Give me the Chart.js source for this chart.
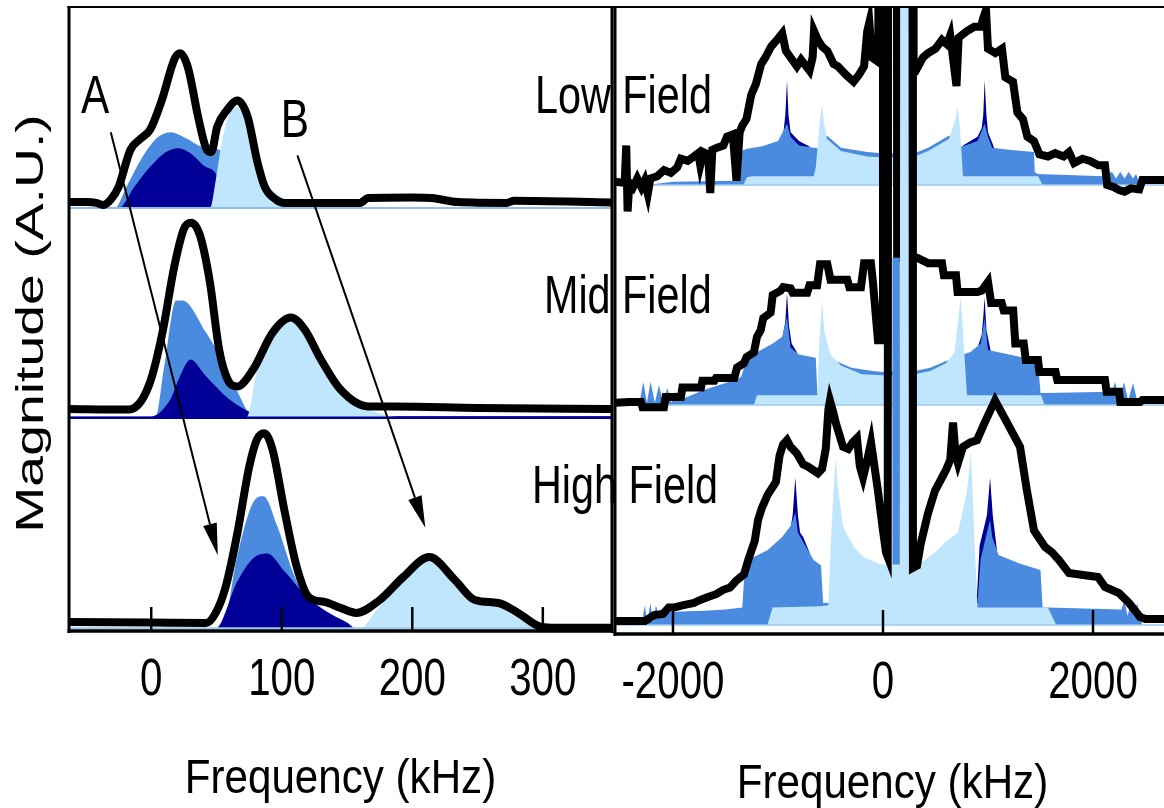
<!DOCTYPE html>
<html><head><meta charset="utf-8">
<script src="https://cdn.jsdelivr.net/npm/chart.js@4.4.1/dist/chart.umd.min.js"></script>
<style>
html,body{margin:0;padding:0;background:#fff;}
body{width:1164px;height:808px;position:relative;overflow:hidden;}
canvas{position:absolute;top:0;}
#cl{left:0;} #cr{left:612px;}
.fl{position:absolute;font-family:'Liberation Sans',Arial,sans-serif;font-size:53px;line-height:53px;color:#000;white-space:pre;transform-origin:0 0;}
</style></head><body>
<canvas id="cl" width="614" height="808"></canvas>
<canvas id="cr" width="552" height="808"></canvas>
<script>
// ---------------- DATA ----------------
const leftTicks = [0, 100, 200, 300];
const rightTicks = [-2000, 0, 2000];
const xTitle = 'Frequency (kHz)';
const yTitle = 'Magnitude (A.U.)';
const fieldNames = ['Low Field', 'Mid Field', 'High Field'];
const traceOffsets = [200, 100, 0];           // Low, Mid, High stacking offset (A.U.)
const arrowA = [[-31, 236], [51, 35]];        // [kHz, A.U.] start -> tip
const arrowB = [[112, 225], [210, 48]];
const arrowLabels = [['A', -43, 245], ['B', 110, 233.8]];

// left panel (kHz, A.U.)
const leftLowBlack = [[-63,2.8],[-50,2.8],[-42,2.4],[-37,1.4],[-31,4],[-25,10],[-16,27.5],[-8,33],[-1,37],[8,51],[18,71],[22,73.5],[28,67],[36,43],[42,28.4],[46,26.5],[50.5,38.5],[58,46.5],[66,51],[74,43],[81,22.7],[87,10],[96,3.8],[102,2.4],[160,2.4],[166,4.7],[200,5],[215,4.7],[235,2.8],[272,2.4],[278,3.4],[353,2.6]];
const leftLowMed = [[-63,0],[-28,0],[-19,10],[-7,24],[5,33.6],[15,36],[27,33],[40,29],[55,26.5],[58,0],[353,0]];
const leftLowDark = [[-63,0],[-25,0],[-13,10],[-1,19.4],[11,26.5],[21,28.4],[30,26],[42,19.4],[51,14.2],[54,0],[353,0]];
const leftLowLight = [[-63,0],[45,0],[49.4,13],[54,31],[60,45],[66,48],[72,41.7],[80,24],[87,11.8],[96,7],[104,2.8],[110,0],[353,0]];

const leftMidBlack = [[-63,4.5],[-20,4.2],[-13,5],[-1,17],[8.6,40.8],[17.6,72],[25,90],[30.6,93],[37.3,87],[45,64.5],[52,32.7],[58.5,18.5],[66,15.2],[78,23.2],[93,40.8],[107,47.9],[117.6,42.2],[130,28],[145,13.7],[166,5.7],[187,5.7],[250,5],[353,4.5]];
const leftMidMed = [[-63,0],[3,0],[10,25],[19,56],[24,56],[42,40.8],[57,24.6],[69,9],[74,3],[78,0],[353,0]];
const leftMidDark = [[-63,0.8],[-1,0.8],[14.6,9],[22,20],[30,28],[42,20],[60,9],[81,2],[100,1],[353,1]];
const leftMidLight = [[-63,0],[72,0],[75,3],[81,23],[96.5,43.6],[107,48.5],[120.5,40.8],[136,20],[151,9],[172,3],[190,0.5],[353,0.5]];

const leftHighBlack = [[-63,3.3],[0,3],[42,2.8],[49.4,7.6],[57,19.9],[66,45.5],[75,76.8],[81,90],[86.6,93],[93,85],[102,56.4],[111.5,29.4],[120.5,15.2],[132.7,12.8],[145,10],[157,7.6],[175,13.7],[193,24.6],[213,34.1],[232.7,23.2],[248,13.7],[266,12.3],[281,7.6],[299,0.9],[310,0.5],[353,0.5]];
const leftHighMed = [[-63,0],[54,0],[66,35],[78,60],[86,63],[96.5,49],[108.5,27],[120.5,11],[132.7,0],[353,0]];
const leftHighDark = [[-63,0],[49,0],[66,22.6],[78,33.5],[89,35.8],[102,27.4],[120.5,14.6],[139,6.6],[150,3],[157,0],[353,0]];
const leftHighLight = [[-63,0],[160,0],[172,8.5],[193,22.6],[213,33.5],[232.7,20.8],[248,13],[266,10.8],[281,5],[296,1.4],[305,0],[353,0]];

// right panel (kHz, A.U.)
const rightLowBlack = [[-2552,1.5],[-2460,1],[-2445,18],[-2432,-12],[-2415,1],[-2380,-1],[-2340,3],[-2300,-1],[-2270,2],[-2240,-4],[-2215,3],[-2150,4],[-2085,6.8],[-2020,5.5],[-1960,8],[-1925,12],[-1860,11],[-1800,13],[-1760,14.5],[-1740,9],[-1710,15],[-1665,14],[-1645,-3.6],[-1625,16],[-1580,17],[-1520,18],[-1485,22],[-1430,23],[-1395,2],[-1365,24],[-1340,27],[-1300,30],[-1255,41],[-1210,46],[-1160,55],[-1120,58],[-1065,63],[-1010,66],[-960,69],[-925,61],[-880,58],[-820,54],[-780,57],[-700,52],[-670,58],[-657,70],[-620,66],[-580,63],[-530,61],[-470,55],[-430,54],[-350,50],[-280,47],[-230,50],[-180,54],[-150,70],[-130,74],[-105,58],[-45,56],[-30,400],[285,400],[292,55],[324,53],[380,58],[430,60],[500,62],[562,66],[610,64],[640,68],[700,45],[720,67],[800,70],[870,72],[933,72],[955,76],[981,79.5],[1000,62],[1070,60],[1133,62],[1165,49],[1238,47],[1280,33],[1333,30],[1375,22],[1438,20],[1490,14],[1571,13],[1640,14.5],[1720,13],[1771,15],[1820,10],[1900,12],[1971,11],[2050,9],[2114,9],[2135,0],[2200,-1],[2248,-2.3],[2300,-3],[2360,-1.5],[2440,-2],[2470,2.3],[2676,2.3]];
const rightLowMed = [[-2552,0],[-2330,0],[-2310,4],[-2295,0],[-2270,3.5],[-2250,0],[-2000,1.5],[-1400,2],[-1371,4],[-1350,15.5],[-1295,16.5],[-1150,17.7],[-1000,20],[-950,24.5],[-914,28],[-880,22],[-800,18],[-660,17],[-640,17],[-600,16],[-535,22.5],[-400,17],[-150,15],[0,14.5],[300,14.5],[430,17],[630,22.5],[700,17.7],[762,17.7],[900,20],[935,24],[968,28],[1000,22],[1040,17],[1200,16],[1438,15],[1445,6],[1470,5],[2110,4],[2180,6],[2220,3],[2260,6],[2300,3],[2340,6],[2380,3],[2410,5],[2450,0],[2676,0]];
const rightLowDark = [[-2552,0],[-1100,0],[-1000,18],[-950,23],[-930,32],[-914,47.7],[-900,32],[-880,24],[-800,20],[-700,17.5],[-640,0],[700,0],[762,18],[900,22],[940,26],[955,32],[968,47.7],[985,32],[1000,24],[1050,18],[1150,0],[2676,0]];
const rightLowLight = [[-2552,0],[-1330,0],[-1295,3.5],[-1250,4],[-660,4],[-640,8],[-600,30],[-580,36],[-560,28],[-535,21],[-400,15.5],[-150,13],[0,12.5],[300,13],[430,15.5],[630,21],[690,30],[709,36],[730,28],[762,4],[1476,4],[1520,0],[2676,0]];

const rightMidBlack = [[-2552,1],[-2420,1.4],[-2305,1.4],[-2290,-1],[-2086,-1],[-2070,3.6],[-1924,3.6],[-1910,8],[-1733,8],[-1720,11],[-1606,11],[-1590,12.3],[-1416,12.3],[-1390,17],[-1324,19],[-1300,21.8],[-1229,24],[-1200,31],[-1165,34],[-1140,39.5],[-1070,42],[-1050,50],[-975,52],[-950,53.6],[-880,53],[-860,51],[-722,51],[-700,54.5],[-627,54.5],[-600,64],[-530,64],[-500,57],[-340,57],[-320,53.6],[-210,53.6],[-180,64.5],[-115,64.5],[-95,55.5],[-48,29.5],[-5,29.5],[0,400],[130,400],[135,66.8],[300,67],[324,67],[430,64.5],[562,64.5],[580,59],[695,59],[710,51.4],[900,51.4],[940,52],[1000,56],[1030,46.4],[1130,46.4],[1150,43],[1240,43],[1260,28],[1340,28],[1360,20.5],[1476,20.5],[1490,15],[1643,15],[1660,11.4],[2114,11.4],[2130,6],[2248,6],[2260,1.4],[2448,1.4],[2470,2.3],[2676,2.3]];
const rightMidMed = [[-2552,0],[-2320,0.5],[-2283,10.6],[-2248,1],[-2213,10.6],[-2173,1],[-2133,9],[-2094,1],[-2054,7.7],[-2014,1],[-1974,6],[-1940,2.5],[-1900,3],[-1700,7],[-1500,10],[-1380,12],[-1350,13],[-1290,22],[-1200,24],[-1050,28],[-960,31],[-914,40],[-880,26],[-800,23],[-640,21.5],[-625,5],[-610,5],[-535,21],[-450,20],[-300,17],[-100,15.5],[0,15],[300,15.5],[450,17],[600,20],[680,21],[762,23],[830,24],[930,28],[968,39.5],[1000,25],[1100,24],[1300,22],[1476,20],[1500,5.5],[1540,5.5],[2180,6],[2210,10.5],[2250,2],[2295,10.5],[2335,2],[2381,10],[2420,2],[2450,0],[2676,0]];
const rightMidDark = [[-2552,0],[-1100,0],[-960,30],[-930,38],[-914,51],[-895,36],[-870,28],[-820,24],[-750,0],[800,0],[900,26],[940,32],[955,40],[968,49],[985,34],[1020,26],[1100,0],[2676,0]];
const rightMidLight = [[-2552,0],[-1230,0],[-1200,4.5],[-625,4.5],[-605,30],[-580,47.7],[-560,34],[-530,28],[-500,23],[-400,18],[-200,14],[0,13.5],[300,14],[450,15.5],[600,19],[680,24],[720,40],[738,49],[760,35],[800,4.5],[1505,4.5],[1540,0],[2676,0]];

const rightHighBlack = [[-2552,1.8],[-2267,1.8],[-2180,4.5],[-2095,5],[-2040,8],[-1990,8],[-1900,9],[-1800,10],[-1760,11],[-1680,12.5],[-1590,14],[-1520,16],[-1457,17],[-1400,20],[-1324,23],[-1280,30],[-1222,38],[-1190,47.7],[-1155,53],[-1100,59],[-1020,65],[-985,77],[-952,82],[-914,84],[-880,81],[-820,78],[-760,73],[-715,72],[-620,69],[-580,71],[-545,80],[-520,98],[-505,102],[-470,96],[-450,92],[-380,81],[-330,80],[-290,83],[-248,85],[-220,72],[-190,67],[-150,75],[-114,83],[-90,75],[-48,61],[0,43],[29,33],[45,31],[50,400],[280,400],[285,26],[324,27],[360,37],[430,51],[495,61],[600,70.5],[640,75],[667,92],[690,78],[714,73.6],[762,81],[830,83],[895,84],[968,92],[1067,102],[1170,93],[1305,81],[1371,61],[1438,43],[1543,35.5],[1610,33],[1676,29.5],[1771,23.6],[1905,22.7],[2048,21.8],[2114,17.3],[2248,14.5],[2343,10],[2448,3.6],[2500,2.7],[2676,2.7]];
const rightHighMed = [[-2552,0],[-2300,0],[-2267,9],[-2245,1],[-2215,10],[-2190,1],[-2162,9],[-2140,5],[-2000,6],[-1700,6.5],[-1500,7],[-1340,8],[-1324,20],[-1286,29.5],[-1100,34],[-960,40],[-880,45],[-835,51],[-810,42],[-760,37.7],[-660,29.5],[-590,27],[-570,10],[-500,10],[86,10],[90,167],[160,167],[165,10],[900,10],[930,30],[980,40],[1020,47.7],[1040,40],[1100,31.8],[1300,28],[1500,25],[1520,8],[1570,8],[2270,7],[2300,11],[2330,4],[2360,11],[2390,4],[2420,10],[2450,3],[2470,0],[2676,0]];
const rightHighDark = [[-2552,0],[-1000,0],[-900,38],[-860,50],[-835,67],[-810,50],[-790,42],[-760,40],[-700,33],[-660,0],[880,0],[920,36],[990,50],[1020,67],[1045,50],[1080,36],[1150,0],[2676,0]];
const rightHighLight = [[-2552,0],[-1100,0],[-1052,8],[-600,8.5],[-520,9],[-495,40],[-450,76.5],[-430,62.7],[-380,44.5],[-276,35.5],[-190,31],[-48,28],[0,27.5],[160,27.5],[165,400],[305,400],[310,27],[324,27],[495,33],[600,38],[714,42],[800,61],[838,78.6],[870,40],[900,8],[1570,8],[1650,0],[2676,0]];

// ---------------- STYLE ----------------
const SANS = "'Liberation Sans',Arial,sans-serif";
const C_DARK = '#000096', C_MED = '#4a8be0', C_LIGHT = '#bfe6fc', C_BASE = '#9ccaf2';

function pts(arr, off){ return arr.map(([x, v]) => ({x: x, y: v + off})); }
function area(arr, off, color, smooth){
  return {data: pts(arr, off), fill: {value: off}, backgroundColor: color, borderWidth: 0,
          pointRadius: 0, cubicInterpolationMode: smooth ? 'monotone' : 'default', tension: 0};
}
function trace(arr, off, width, color, smooth){
  return {data: pts(arr, off), fill: false, borderColor: color, borderWidth: width, pointRadius: 0,
          borderJoinStyle: smooth ? 'round' : 'miter', borderCapStyle: 'butt',
          cubicInterpolationMode: smooth ? 'monotone' : 'default', tension: 0};
}
function baseLine(off, x0, x1, color, w){
  return {data: [{x: x0, y: off}, {x: x1, y: off}], fill: false, borderColor: color, borderWidth: w, pointRadius: 0};
}
function ordered(list){ list.forEach((d, i) => { d.order = -i; }); return list; }

const leftSets = ordered([
  area(leftLowMed, traceOffsets[0], C_MED, true),
  area(leftLowDark, traceOffsets[0], C_DARK, true),
  area(leftLowLight, traceOffsets[0], C_LIGHT, true),
  baseLine(traceOffsets[0], -63, 353, '#8ec0ee', 2),
  trace(leftLowBlack, traceOffsets[0], 8, '#000', true),
  area(leftMidMed, traceOffsets[1], C_MED, true),
  area(leftMidDark, traceOffsets[1], C_DARK, true),
  area(leftMidLight, traceOffsets[1], C_LIGHT, true),
  baseLine(traceOffsets[1] + 0.3, -63, 353, '#00009a', 2.5),
  trace(leftMidBlack, traceOffsets[1], 8, '#000', true),
  area(leftHighMed, traceOffsets[2], C_MED, true),
  area(leftHighDark, traceOffsets[2], C_DARK, true),
  area(leftHighLight, traceOffsets[2], C_LIGHT, true),
  baseLine(traceOffsets[2] + 0.3, -63, 353, C_BASE, 2),
  trace(leftHighBlack, traceOffsets[2], 8, '#000', true)
]);

const rightSets = ordered([
  area(rightLowDark, traceOffsets[0], C_DARK, false),
  area(rightLowMed, traceOffsets[0], C_MED, false),
  area(rightLowLight, traceOffsets[0], C_LIGHT, false),
  baseLine(traceOffsets[0], -2552, 2676, C_BASE, 1.5),
  trace(rightLowBlack, traceOffsets[0], 8, '#000', false),
  area(rightMidDark, traceOffsets[1], C_DARK, false),
  area(rightMidMed, traceOffsets[1], C_MED, false),
  area(rightMidLight, traceOffsets[1], C_LIGHT, false),
  baseLine(traceOffsets[1], -2552, 2676, C_BASE, 1.5),
  trace(rightMidBlack, traceOffsets[1], 8, '#000', false),
  area(rightHighDark, traceOffsets[2], C_DARK, false),
  area(rightHighMed, traceOffsets[2], C_MED, false),
  area(rightHighLight, traceOffsets[2], C_LIGHT, false),
  baseLine(traceOffsets[2], -2552, 2676, C_BASE, 1.5),
  trace(rightHighBlack, traceOffsets[2], 8, '#000', false)
]);
rightSets.forEach(d => { d.clip = 0; });

// ---------------- PLUGINS ----------------
function framePlugin(sides){
  return {id: 'frame', afterDraw(chart){
    const {ctx, chartArea: a} = chart;
    ctx.save(); ctx.strokeStyle = '#000';
    const seg = (w, x0, y0, x1, y1) => { ctx.lineWidth = w; ctx.beginPath(); ctx.moveTo(x0, y0); ctx.lineTo(x1, y1); ctx.stroke(); };
    if (sides.left) seg(3, a.left, a.top - 2, a.left, a.bottom + 2);
    if (sides.top) seg(2, a.left - 1.5, a.top - 1, a.right + 1.5, a.top - 1);
    if (sides.right) seg(3, a.right, a.top - 2, a.right, a.bottom + 2);
    if (sides.bottom) seg(3.5, a.left - 1.5, a.bottom, a.right + 1.5, a.bottom);
    ctx.restore();
  }};
}
const innerTicks = {id: 'innerTicks', afterDatasetsDraw(chart){
  const {ctx, chartArea: a} = chart; const s = chart.scales.x;
  ctx.save(); ctx.strokeStyle = '#000'; ctx.lineWidth = 2.5;
  s.ticks.forEach(t => { const px = s.getPixelForValue(t.value);
    ctx.beginPath(); ctx.moveTo(px, a.bottom); ctx.lineTo(px, a.bottom - 24); ctx.stroke(); });
  ctx.restore();
}};
// axis texts drawn from the x scale's ticks (condensed, as in the source figure)
function axisText(cfg){
  return {id: 'axisText', afterDraw(chart){
    const {ctx, chartArea: a} = chart; const s = chart.scales.x;
    ctx.save(); ctx.fillStyle = '#000'; ctx.textAlign = 'center'; ctx.textBaseline = 'alphabetic';
    ctx.font = '51px ' + SANS;
    s.ticks.forEach(t => {
      ctx.save(); ctx.translate(s.getPixelForValue(t.value), a.bottom + cfg.tickBase);
      ctx.scale(0.79, 1); ctx.fillText(String(t.value), 0, 0); ctx.restore();
    });
    ctx.font = '49px ' + SANS;
    ctx.save(); ctx.translate((a.left + a.right) / 2 + cfg.titleDx, a.bottom + cfg.titleBase);
    ctx.scale(0.86, 1); ctx.fillText(xTitle, 0, 0); ctx.restore();
    if (cfg.yTitle) {
      ctx.font = '39px ' + SANS;
      ctx.save(); ctx.translate(a.left - 26, (a.top + a.bottom) / 2 + 4); ctx.rotate(-Math.PI / 2);
      ctx.scale(1.42, 1); ctx.fillText(yTitle, 0, 0); ctx.restore();
    }
    ctx.restore();
  }};
}
const arrows = {id: 'arrows', afterDatasetsDraw(chart){
  const {ctx} = chart; const sx = chart.scales.x, sy = chart.scales.y;
  ctx.save(); ctx.strokeStyle = '#000'; ctx.fillStyle = '#000';
  [arrowA, arrowB].forEach(([p0, p1]) => {
    const x0 = sx.getPixelForValue(p0[0]), y0 = sy.getPixelForValue(p0[1]);
    const x1 = sx.getPixelForValue(p1[0]), y1 = sy.getPixelForValue(p1[1]);
    const ang = Math.atan2(y1 - y0, x1 - x0), L = 32, W = 7;
    const bx = x1 - L * Math.cos(ang), by = y1 - L * Math.sin(ang);
    ctx.lineWidth = 2; ctx.beginPath(); ctx.moveTo(x0, y0); ctx.lineTo(bx, by); ctx.stroke();
    ctx.beginPath(); ctx.moveTo(x1, y1);
    ctx.lineTo(bx + W * Math.sin(ang), by - W * Math.cos(ang));
    ctx.lineTo(bx - W * Math.sin(ang), by + W * Math.cos(ang));
    ctx.closePath(); ctx.fill();
  });
  ctx.font = '53px ' + SANS; ctx.textAlign = 'center'; ctx.textBaseline = 'alphabetic';
  arrowLabels.forEach(([t, fx, fy]) => {
    ctx.save(); ctx.translate(sx.getPixelForValue(fx), sy.getPixelForValue(fy));
    ctx.scale(0.8, 1); ctx.fillText(t, 0, 0); ctx.restore();
  });
  ctx.restore();
}};

function xAxis(min, max, ticksArr, h){
  return {type: 'linear', min: min, max: max,
    afterBuildTicks: s => { s.ticks = ticksArr.map(v => ({value: v})); },
    grid: {display: false}, border: {display: false},
    ticks: {display: false},
    afterFit: s => { s.height = h; }};
}

new Chart(document.getElementById('cl'), {
  type: 'line', data: {datasets: leftSets},
  options: {responsive: false, animation: false, events: [],
    layout: {padding: {top: 8, right: 2, left: 69, bottom: 0}},
    plugins: {legend: {display: false}, tooltip: {enabled: false}},
    scales: {
      x: xAxis(-63, 353, leftTicks, 177),
      y: {type: 'linear', min: -1, max: 295, display: false}
    }},
  plugins: [innerTicks, arrows, framePlugin({left: true, top: true, right: true, bottom: true}),
            axisText({tickBase: 64, titleBase: 162, titleDx: 0, yTitle: true})]
});

new Chart(document.getElementById('cr'), {
  type: 'line', data: {datasets: rightSets},
  options: {responsive: false, animation: false, events: [],
    layout: {padding: {top: 8, right: 0, left: 3, bottom: 0}},
    plugins: {legend: {display: false}, tooltip: {enabled: false}},
    scales: {
      x: xAxis(-2552, 2676, rightTicks, 174),
      y: {type: 'linear', min: -4.1, max: 280.5, display: false}
    }},
  plugins: [innerTicks, framePlugin({left: true, top: true, right: false, bottom: true}),
            axisText({tickBase: 63.5, titleBase: 164, titleDx: 3, yTitle: false})]
});

// field labels: "Field" starts just right of the panel divider
const fieldStartX = [622, 622, 629], fieldTopY = [68, 268, 458], FIELD_SX = 0.78;
const mctx = document.createElement('canvas').getContext('2d');
mctx.font = '53px ' + SANS;
fieldNames.forEach((name, i) => {
  const first = name.split(' ')[0] + ' ';
  const d = document.createElement('div');
  d.className = 'fl'; d.textContent = name;
  d.style.transform = 'scaleX(' + FIELD_SX + ')';
  d.style.left = (fieldStartX[i] - FIELD_SX * mctx.measureText(first).width) + 'px';
  d.style.top = fieldTopY[i] + 'px';
  document.body.appendChild(d);
});
</script></body></html>
